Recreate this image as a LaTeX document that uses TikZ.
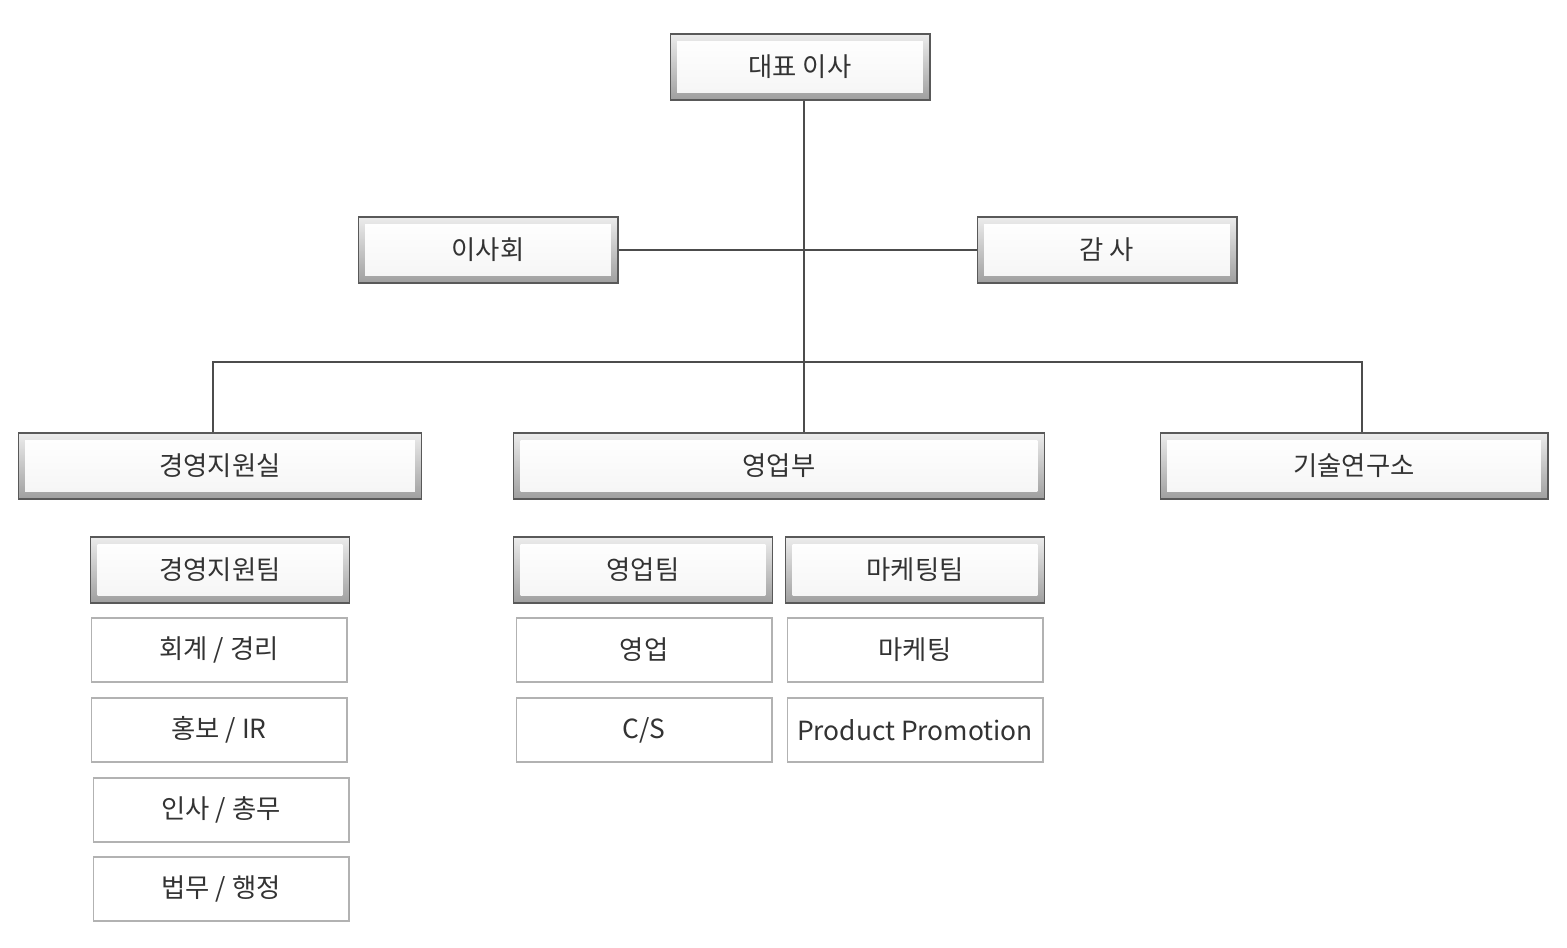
\documentclass[tikz,border=0pt]{standalone}
\usepackage{fontspec}
\setmainfont{Noto Sans CJK KR}
\usepackage{tikz}

\begin{document}
\begin{tikzpicture}[x=0.02cm, y=-0.02cm, every node/.style={inner sep=0pt, font=\fontsize{15}{18}\selectfont, text=black!80},
    bevel/.style={draw=gray!70!black, line width=0.6pt, top color=gray!15, bottom color=gray!75, minimum height=1.32cm,
      path picture={\fill[top color=white, bottom color=gray!8] ([shift={(4pt,4pt)}]path picture bounding box.south west) rectangle ([shift={(-4pt,-4pt)}]path picture bounding box.north east);}},
    plain/.style={draw=gray!60, line width=0.6pt, fill=white, minimum width=5.12cm, minimum height=1.28cm},
    link/.style={draw=gray!60!black, line width=0.6pt}]
    \useasboundingbox (0,0) rectangle (1567,947);

    \node[bevel, minimum width=5.2cm] (ceo) at (800,67) {대표 이사};
    \node[bevel, minimum width=5.2cm] (board) at (488,250) {이사회};
    \node[bevel, minimum width=5.2cm] (audit) at (1107,250) {감 사};
    \node[bevel, minimum width=8.08cm] (mgmt) at (220,466) {경영지원실};
    \node[bevel, minimum width=10.62cm] (sales) at (779,466) {영업부};
    \node[bevel, minimum width=7.76cm] (lab) at (1354,466) {기술연구소};

    \node[bevel, minimum width=5.18cm] (mgmtteam) at (220,570) {경영지원팀};
    \node[bevel, minimum width=5.18cm] (salesteam) at (643,570) {영업팀};
    \node[bevel, minimum width=5.18cm] (mktteam) at (915,570) {마케팅팀};

    \node[plain] (acct) at (219,650) {회계 / 경리};
    \node[plain] (pr) at (219,730) {홍보 / IR};
    \node[plain] (hr) at (221,810) {인사 / 총무};
    \node[plain] (legal) at (221,889) {법무 / 행정};
    \node[plain] (salesjob) at (644,650) {영업};
    \node[plain] (cs) at (644,730) {C/S};
    \node[plain] (mktjob) at (915,650) {마케팅};
    \node[plain] (promo) at (915,730) {Product Promotion};

    \draw[link] (ceo.south -| 804,0) -- (sales.north -| 804,0);
    \draw[link] (board.east) -- (audit.west);
    \draw[link] (mgmt.north -| 213,0) |- (804,362) -| (lab.north -| 1362,0);
\end{tikzpicture}
\end{document}
